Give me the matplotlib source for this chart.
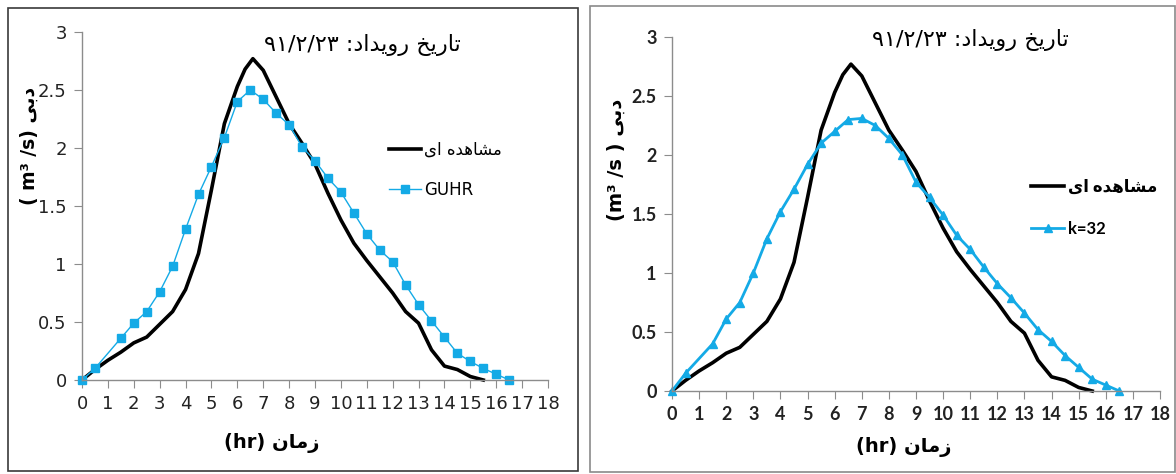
import matplotlib
matplotlib.use("Agg")
import matplotlib.pyplot as plt
from matplotlib.patches import Rectangle

# ---- data ----
hours_obs = [0, 0.5, 1, 1.5, 2, 2.5, 3, 3.5, 4, 4.5, 5, 5.5, 6, 6.3, 6.6, 7, 7.5, 8,
             8.5, 9, 9.5, 10, 10.5, 11, 11.5, 12, 12.5, 13, 13.5, 14, 14.5, 15, 15.5]
q_obs = [0, 0.09, 0.17, 0.24, 0.32, 0.37, 0.48, 0.59, 0.78, 1.09, 1.64, 2.21, 2.53, 2.68,
         2.77, 2.67, 2.44, 2.21, 2.04, 1.86, 1.61, 1.38, 1.18, 1.03, 0.89, 0.75, 0.59,
         0.49, 0.26, 0.12, 0.09, 0.03, 0.0]

hours_mod = [0, 0.5, 1.5, 2, 2.5, 3, 3.5, 4, 4.5, 5, 5.5, 6, 6.5, 7, 7.5, 8, 8.5, 9,
             9.5, 10, 10.5, 11, 11.5, 12, 12.5, 13, 13.5, 14, 14.5, 15, 15.5, 16, 16.5]
q_guhr = [0, 0.10, 0.36, 0.49, 0.59, 0.76, 0.98, 1.30, 1.60, 1.84, 2.09, 2.40, 2.50,
          2.42, 2.30, 2.20, 2.01, 1.89, 1.74, 1.62, 1.44, 1.26, 1.12, 1.02, 0.82, 0.65,
          0.51, 0.37, 0.23, 0.16, 0.10, 0.05, 0.0]
q_k32 = [0, 0.15, 0.40, 0.61, 0.75, 1.00, 1.29, 1.52, 1.71, 1.92, 2.10, 2.20, 2.30,
         2.31, 2.25, 2.14, 2.00, 1.77, 1.64, 1.49, 1.32, 1.20, 1.05, 0.91, 0.79, 0.66,
         0.52, 0.42, 0.30, 0.20, 0.10, 0.05, 0.0]

x_ticks = list(range(0, 19))
y_ticks = [0, 0.5, 1, 1.5, 2, 2.5, 3]
y_tick_labels = ['0', '0.5', '1', '1.5', '2', '2.5', '3']

# ---- simple Persian shaping (matplotlib has no bidi / joining) ----
FORMS = {
    'ا': ('\uFE8D', '\uFE8E', None, None),
    'ب': ('\uFE8F', '\uFE90', '\uFE91', '\uFE92'),
    'ت': ('\uFE95', '\uFE96', '\uFE97', '\uFE98'),
    'خ': ('\uFEA5', '\uFEA6', '\uFEA7', '\uFEA8'),
    'د': ('\uFEA9', '\uFEAA', None, None),
    'ر': ('\uFEAD', '\uFEAE', None, None),
    'ز': ('\uFEAF', '\uFEB0', None, None),
    'ش': ('\uFEB5', '\uFEB6', '\uFEB7', '\uFEB8'),
    'م': ('\uFEE1', '\uFEE2', '\uFEE3', '\uFEE4'),
    'ن': ('\uFEE5', '\uFEE6', '\uFEE7', '\uFEE8'),
    'ه': ('\uFEE9', '\uFEEA', '\uFEEB', '\uFEEC'),
    'و': ('\uFEED', '\uFEEE', None, None),
    'ی': ('\uFEEF', '\uFEF0', '\uFEF3', '\uFEF4'),
}


def shape(word):
    out = []
    for i, ch in enumerate(word):
        f = FORMS[ch]
        prev_joins = i > 0 and FORMS[word[i - 1]][2] is not None
        next_joins = f[2] is not None and i < len(word) - 1
        if prev_joins and next_joins:
            out.append(f[3])
        elif prev_joins:
            out.append(f[1])
        elif next_joins:
            out.append(f[2])
        else:
            out.append(f[0])
    return ''.join(reversed(out))


# Arabic-Indic digits (same shapes as Persian 9, 1, 2, 3)
date_fa = '\u0669\u0661/\u0662/\u0662\u0663'
title_txt = date_fa + ' :' + shape('رویداد') + ' ' + shape('تاریخ')
obs_label = shape('ای') + ' ' + shape('مشاهده')
xlabel_txt = '(hr) ' + shape('زمان')

FA = ['DejaVu Sans', 'Noto Sans']
BLUE = '#14aae6'
W, H = 1176, 474

fig = plt.figure(figsize=(W / 100, H / 100), dpi=100)
fig.patch.set_facecolor('white')

# panel frames
fig.add_artist(Rectangle((8 / W, 1 - 471 / H), 570 / W, 463 / H, transform=fig.transFigure,
                         fill=False, edgecolor='#3a3a3a', lw=1.2))
fig.add_artist(Rectangle((590 / W, 1 - 472 / H), 585 / W, 466 / H, transform=fig.transFigure,
                         fill=False, edgecolor='#8a8a8a', lw=1.2))


def setup(ax, tick_font, tick_weight):
    ax.set_xlim(0, 18)
    ax.set_ylim(0, 3)
    ax.set_xticks(x_ticks)
    ax.set_yticks(y_ticks)
    ax.set_yticklabels(y_tick_labels)
    for s in ['top', 'right']:
        ax.spines[s].set_visible(False)
    for s in ['left', 'bottom']:
        ax.spines[s].set_color('#8c8c8c')
        ax.spines[s].set_linewidth(1)
    ax.tick_params(direction='out', length=6, color='#8c8c8c', pad=5)
    for lab in ax.get_xticklabels() + ax.get_yticklabels():
        lab.set_family(tick_font)
        lab.set_fontsize(13)
        lab.set_fontweight(tick_weight)
        lab.set_color('#222222')


# ---- left panel ----
ax1 = fig.add_axes([82 / W, 94 / H, 466 / W, 348 / H])
l1, = ax1.plot(hours_obs, q_obs, color='black', lw=2.6, clip_on=False)
l2, = ax1.plot(hours_mod, q_guhr, color=BLUE, lw=1, marker='s', ms=5.5,
               mec=BLUE, mfc=BLUE, clip_on=False)
setup(ax1, ['Liberation Sans Narrow', 'DejaVu Sans'], 'normal')
fig.text(362 / W, 1 - 45 / H, title_txt, ha='center', va='center', fontsize=16,
         family=FA)
fig.text(29 / W, 1 - 146 / H, '( m\u00b3 /s) ' + shape('دبی'), rotation=90, ha='center',
         va='center', fontsize=13.5, fontweight='bold', family=FA)
fig.text(272 / W, 1 - 443 / H, xlabel_txt, ha='center', va='center', fontsize=14,
         fontweight='bold', family=FA)
ax1.legend([l1, l2], [obs_label, 'GUHR'], loc='center left',
           bbox_to_anchor=(374 / W, 1 - 170 / H), bbox_transform=fig.transFigure,
           frameon=False, handlelength=1.9, handletextpad=0.2, labelspacing=1.3,
           prop={'family': ['Liberation Sans Narrow', 'DejaVu Sans'], 'size': 12})

# ---- right panel ----
ax2 = fig.add_axes([672 / W, 83 / H, 488 / W, 354 / H])
r1, = ax2.plot(hours_obs, q_obs, color='black', lw=2.6, clip_on=False)
r2, = ax2.plot(hours_mod, q_k32, color=BLUE, lw=2, marker='^', ms=6,
               mec=BLUE, mfc=BLUE, clip_on=False)
setup(ax2, ['Lato', 'DejaVu Sans'], 'bold')
fig.text(970 / W, 1 - 40 / H, title_txt, ha='center', va='center', fontsize=16,
         family=FA)
fig.text(616 / W, 1 - 160 / H, '(m\u00b3 /s ) ' + shape('دبی'), rotation=90, ha='center',
         va='center', fontsize=14, fontweight='bold', family=FA)
fig.text(904 / W, 1 - 447 / H, xlabel_txt, ha='center', va='center', fontsize=14,
         fontweight='bold', family=FA)
ax2.legend([r1, r2], [obs_label, 'k=32'], loc='center left',
           bbox_to_anchor=(1016 / W, 1 - 208 / H), bbox_transform=fig.transFigure,
           frameon=False, handlelength=2.0, handletextpad=0.2, labelspacing=1.6,
           prop={'family': ['Lato', 'DejaVu Sans'], 'size': 12, 'weight': 'bold'})

fig.savefig('out.png', dpi=100)
